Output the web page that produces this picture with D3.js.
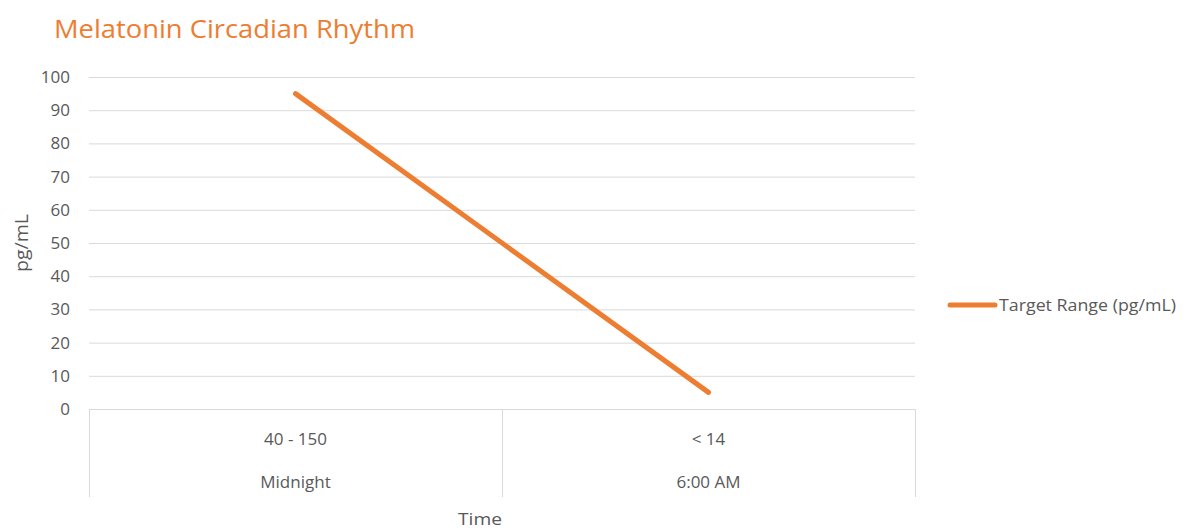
<!DOCTYPE html>
<html><head><meta charset="utf-8">
<script src="https://cdn.jsdelivr.net/npm/d3@7"></script>
<style>body{margin:0;background:#fff}svg{display:block}text{font-family:"Open Sans",sans-serif}</style>
</head><body><svg id="c" width="1186" height="531"></svg>
<script>
const categories = ["Midnight", "6:00 AM"];
const ranges = ["40 - 150", "< 14"];
const values = [95, 5];
const yTicks = [0,10,20,30,40,50,60,70,80,90,100];
const seriesName = "Target Range (pg/mL)";
const title = "Melatonin Circadian Rhythm";

const svg = d3.select("#c");
const L = 89, R = 915, T = 77, B = 409;
const x = d3.scaleBand().domain(categories).range([L, R]);
const y = d3.scaleLinear().domain([0, 100]).range([B, T]);
const orange = "#ED7D31", grey = "#595959", gridC = "#D9D9D9";
const fs = 17;

svg.append("text").attr("x", 54).attr("y", 38).attr("fill", orange)
  .attr("font-size", 26).attr("textLength", 361).attr("lengthAdjust","spacingAndGlyphs").text(title);

// grid
svg.append("g").selectAll("line").data(yTicks.filter(d => d > 0)).join("line")
  .attr("x1", L).attr("x2", R).attr("y1", d => y(d)+0.5).attr("y2", d => y(d)+0.5)
  .attr("stroke", gridC).attr("stroke-width", 1);

// y axis labels
const ya = d3.axisLeft(y).tickValues(yTicks).tickSize(0).tickPadding(19);
const yg = svg.append("g").attr("transform", `translate(${L},0)`).call(ya);
yg.select(".domain").remove();
yg.selectAll("text").attr("fill", grey).attr("font-size", fs).attr("font-family", "Open Sans, sans-serif");

// x axis box
svg.append("line").attr("x1", L).attr("x2", R).attr("y1", B+0.5).attr("y2", B+0.5).attr("stroke", gridC);
const bounds = [...categories.map(c => x(c)), R];
svg.append("g").selectAll("line").data(bounds).join("line")
  .attr("x1", d => Math.round(d)+0.5).attr("x2", d => Math.round(d)+0.5).attr("y1", B).attr("y2", 497)
  .attr("stroke", gridC);
svg.append("g").selectAll("text").data(ranges).join("text")
  .attr("x", (d,i) => x(categories[i]) + x.bandwidth()/2).attr("y", 445)
  .attr("text-anchor", "middle").attr("fill", grey).attr("font-size", fs).text(d => d);
svg.append("g").selectAll("text").data(categories).join("text")
  .attr("x", d => x(d) + x.bandwidth()/2).attr("y", 488)
  .attr("text-anchor", "middle").attr("fill", grey).attr("font-size", fs).text(d => d);

// axis titles
svg.append("text").attr("x", 480).attr("y", 525).attr("text-anchor", "middle")
  .attr("fill", grey).attr("font-size", 17).attr("textLength", 44).attr("lengthAdjust","spacingAndGlyphs").text("Time");
svg.append("text").attr("transform", "translate(28,243) rotate(-90)").attr("text-anchor", "middle")
  .attr("fill", grey).attr("font-size", 18).attr("textLength", 58).attr("lengthAdjust","spacingAndGlyphs").text("pg/mL");

// line
const line = d3.line().x((d,i) => x(categories[i]) + x.bandwidth()/2).y(d => y(d));
svg.append("path").datum(values).attr("d", line).attr("fill", "none")
  .attr("stroke", orange).attr("stroke-width", 5).attr("stroke-linecap", "round");

// legend
svg.append("line").attr("x1", 950).attr("x2", 995).attr("y1", 305).attr("y2", 305)
  .attr("stroke", orange).attr("stroke-width", 5).attr("stroke-linecap", "round");
svg.append("text").attr("x", 999).attr("y", 311).attr("fill", grey).attr("font-size", fs)
  .attr("textLength", 177).attr("lengthAdjust","spacingAndGlyphs").text(seriesName);
</script></body></html>
